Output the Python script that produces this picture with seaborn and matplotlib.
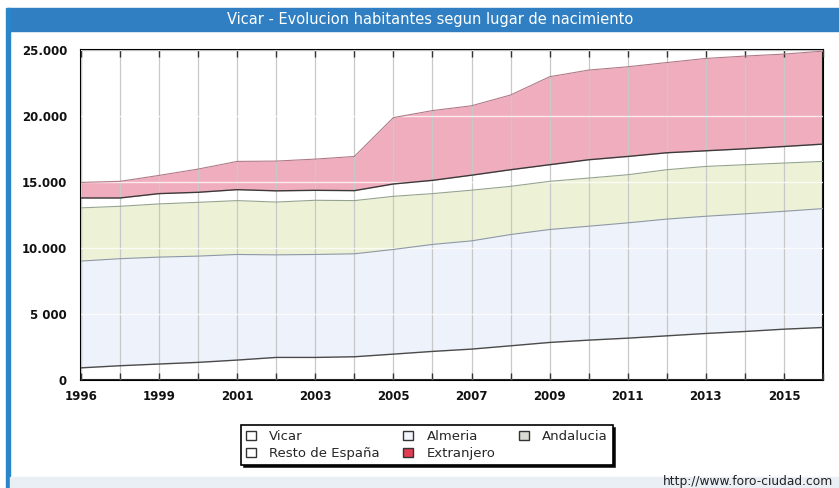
import matplotlib
matplotlib.use("Agg")
import matplotlib.pyplot as plt
from matplotlib.patches import Rectangle, Patch
import numpy as np
import pandas as pd
import seaborn as sns

# ---------------- data ----------------
years = [1996, 1998, 1999, 2000, 2001, 2002, 2003, 2004, 2005, 2006,
         2007, 2008, 2009, 2010, 2011, 2012, 2013, 2014, 2015, 2016]
vicar = [920, 1080, 1210, 1335, 1510, 1710, 1710, 1760, 1960, 2165,
         2340, 2590, 2845, 3020, 3170, 3345, 3525, 3675, 3850, 3980]
almeria = [8090, 8110, 8100, 8050, 8000, 7770, 7800, 7800, 7930, 8105,
           8200, 8430, 8555, 8630, 8735, 8845, 8880, 8910, 8930, 9005]
andalucia = [4030, 3970, 4030, 4075, 4080, 4000, 4105, 4030, 4025, 3850,
             3840, 3650, 3650, 3650, 3645, 3740, 3775, 3725, 3655, 3575]
resto_espana = [750, 630, 780, 760, 830, 850, 755, 755, 935, 1005,
                1135, 1260, 1260, 1385, 1385, 1285, 1185, 1205, 1255, 1310]
extranjero = [1180, 1260, 1380, 1760, 2140, 2255, 2365, 2590, 5030, 5285,
              5260, 5660, 6665, 6795, 6795, 6835, 6995, 7025, 7000, 7045]

series_names = ["Vicar", "Almeria", "Andalucia", "Resto de España", "Extranjero"]
ytick_values = [0, 5000, 10000, 15000, 20000, 25000]
ytick_labels = ["0", "5 000", "10.000", "15.000", "20.000", "25.000"]
title_text = "Vicar - Evolucion habitantes segun lugar de nacimiento"
source_text = "http://www.foro-ciudad.com"

# ---------------- styling ----------------
fill_colors = ["#ffffff", "#eef2fa", "#edf2d6", "#ffffff", "#f0adbd"]
line_colors = ["#4a4a4a", "#8d98aa", "#94a48e", "#3a3a3a", "#b07a88"]
line_widths = [1.0, 0.8, 0.8, 1.0, 0.8]
legend_face = ["#ffffff", "#f2f5fb", "#d9dcd2", "#ffffff", "#e23c52"]

sns.set_theme(style="white")
plt.rcParams['font.family'] = ['DejaVu Sans']

W, H = 839, 488
fig = plt.figure(figsize=(W / 100, H / 100), dpi=100)
fig.patch.set_facecolor("white")

# page decoration: title bar, left blue border, bottom band
fig.patches.append(Rectangle((8 / W, 1 - 31 / H), 1 - 8 / W, 23 / H,
                             transform=fig.transFigure, color="#2f7fc2", zorder=0))
fig.patches.append(Rectangle((6 / W, 0), 4 / W, 1 - 8 / H,
                             transform=fig.transFigure, color="#2a86c8", zorder=0))
fig.patches.append(Rectangle((10 / W, 0), 1 - 10 / W, 11 / H,
                             transform=fig.transFigure, color="#e9eff5", zorder=0))
fig.text(430 / W, 1 - 19.5 / H, title_text, color="white", fontsize=10.5,
         ha="center", va="center")
fig.text(663 / W, 1 - 482 / H, source_text, color="#222222", fontsize=8.8,
         ha="left", va="center")

ax = fig.add_axes([81 / W, 1 - 380 / H, (823 - 81) / W, (380 - 50) / H])
ax.set_facecolor("white")

idx = np.arange(len(years))
df = pd.DataFrame({"idx": idx, "Vicar": vicar, "Almeria": almeria,
                   "Andalucia": andalucia, "Resto de España": resto_espana,
                   "Extranjero": extranjero})
cum = df[series_names].cumsum(axis=1)

lower = np.zeros(len(years))
for k, name in enumerate(series_names):
    upper = cum[name].to_numpy()
    ax.fill_between(idx, lower, upper, color=fill_colors[k], lw=0, zorder=1)
    lower = upper

for k, name in enumerate(series_names):
    sns.lineplot(x=df["idx"], y=cum[name], ax=ax, color=line_colors[k],
                 lw=line_widths[k], zorder=3)

ax.set_xlim(0, len(years) - 1)
ax.set_ylim(0, 25000)
ax.set_xlabel("")
ax.set_ylabel("")

ax.set_xticks(idx)
ax.set_xticklabels([str(y) if i % 2 == 0 else "" for i, y in enumerate(years)],
                   fontsize=8.5, fontweight="bold", color="#111111")
ax.set_yticks(ytick_values)
ax.set_yticklabels(ytick_labels, fontsize=8.5, fontweight="bold", color="#111111")

ax.xaxis.grid(True, color="#c8c8c8", lw=0.9, zorder=2)
ax.yaxis.grid(True, color="white", lw=1.0, alpha=0.75, zorder=2)
ax.set_axisbelow(False)
ax.tick_params(axis="x", direction="in", length=5, width=1, color="#333333",
               top=True, bottom=True, pad=7)
ax.tick_params(axis="y", length=0, pad=10)
for s in ax.spines.values():
    s.set_visible(True)
    s.set_color("black")
    s.set_linewidth(1.5)

# legend
handles = [Patch(facecolor=legend_face[k], edgecolor="#333333", lw=1.0)
           for k in range(len(series_names))]
order = [0, 3, 1, 4, 2]
leg = fig.legend([handles[i] for i in order], [series_names[i] for i in order],
                 loc="center", bbox_to_anchor=(427 / W, 1 - 445 / H), ncol=3,
                 frameon=True, fancybox=False, edgecolor="black",
                 shadow={"color": "black", "alpha": 0.9},
                 fontsize=9.5, handlelength=0.75, handleheight=0.75,
                 handletextpad=1.0, columnspacing=1.8, labelspacing=0.3,
                 borderpad=0.35, borderaxespad=0)
leg.get_frame().set_linewidth(1.2)

fig.savefig("out.png", dpi=100)
